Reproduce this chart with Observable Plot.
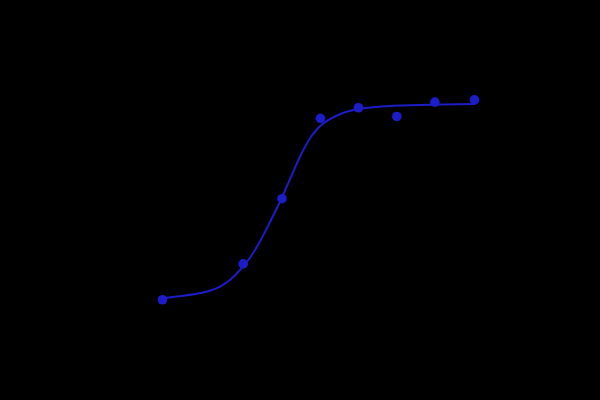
<!DOCTYPE html>
<html>
<head>
<meta charset="utf-8">
<script src="https://cdn.jsdelivr.net/npm/d3@7"></script>
<script src="https://cdn.jsdelivr.net/npm/@observablehq/plot@0.6"></script>
<style>
  html, body { margin: 0; padding: 0; background: #000; }
  #chart { width: 600px; height: 400px; }
</style>
</head>
<body>
<div id="chart"></div>
<script>
// Measured responses (log concentration vs. % response)
const pointLogConc = [-10.0, -7.92, -6.92, -5.93, -4.95, -3.96, -2.98, -1.96];
const pointResponse = [18.2, 34.2, 63.3, 99.2, 103.9, 100.0, 106.4, 107.4];

// Fitted curve
const fitLogConc = [-10.0, -9.459, -9.021, -8.763, -8.505, -8.247, -7.99, -7.732, -7.474, -7.216, -6.933, -6.83, -6.701, -6.572, -6.443, -6.314, -6.186, -6.057, -5.928, -5.799, -5.67, -5.412, -5.155, -4.897, -4.381, -3.35, -1.959];
const fitResponse = [18.88, 19.96, 21.21, 22.32, 24.2, 27.23, 31.7, 37.28, 44.64, 53.35, 63.39, 67.41, 72.54, 77.68, 82.59, 86.83, 90.63, 93.53, 95.85, 97.63, 98.97, 101.12, 102.54, 103.48, 104.46, 105.18, 105.63];

const points = pointLogConc.map((x, i) => ({x, y: pointResponse[i]}));
const fit = fitLogConc.map((x, i) => ({x, y: fitResponse[i]}));

const blue = "#1c1cc8";

const chart = Plot.plot({
  width: 600,
  height: 400,
  marginLeft: 123.2,
  marginRight: 88.8,
  marginTop: 60,
  marginBottom: 60,
  style: {background: "#000"},
  x: {domain: [-11, -1], axis: null},
  y: {domain: [0, 125], axis: null},
  marks: [
    Plot.line(fit, {x: "x", y: "y", stroke: blue, strokeWidth: 2, curve: "monotone-x"}),
    Plot.dot(points, {x: "x", y: "y", r: 4.8, fill: blue, stroke: "none"})
  ]
});
document.getElementById("chart").appendChild(chart);
</script>
</body>
</html>
